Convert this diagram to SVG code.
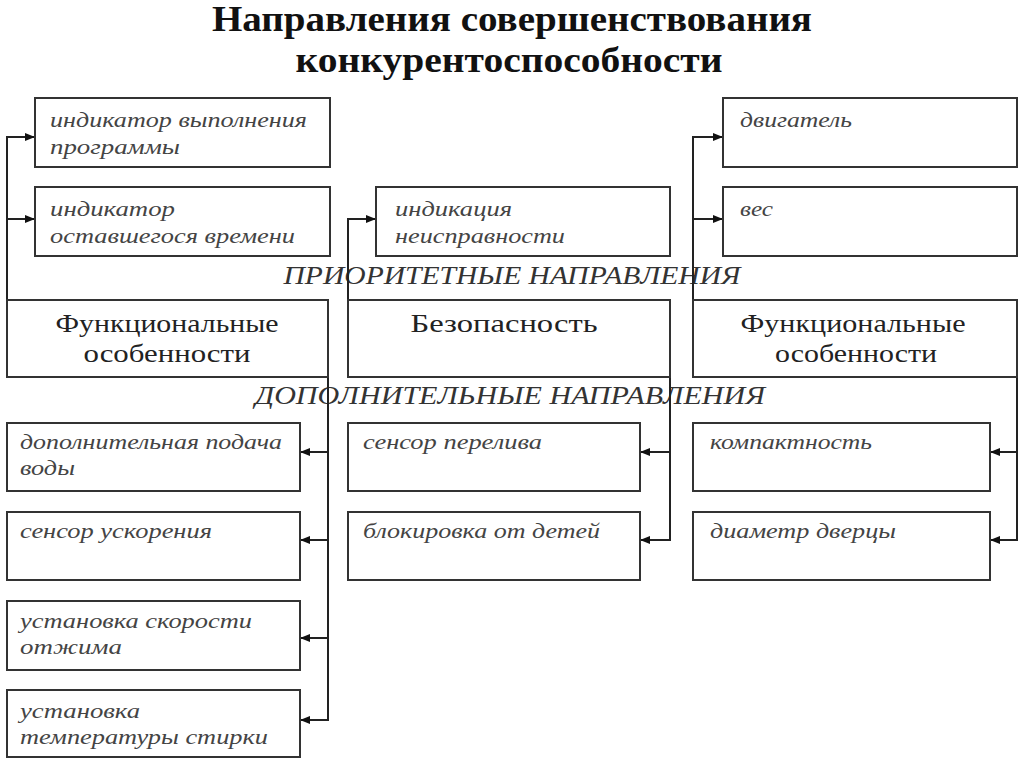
<svg xmlns="http://www.w3.org/2000/svg" width="1024" height="767" viewBox="0 0 1024 767">
<style>
.box{fill:#fff;stroke:#333;stroke-width:2}
.it{font-family:"Liberation Serif",serif;font-style:italic;font-size:21px;fill:#444}
.main{font-family:"Liberation Serif",serif;font-size:25px;fill:#222;text-anchor:middle}
.sec{font-family:"Liberation Serif",serif;font-style:italic;font-size:25px;fill:#333;text-anchor:middle}
.title{font-family:"Liberation Serif",serif;font-weight:bold;font-size:35px;fill:#111;text-anchor:middle}
.ln{fill:none;stroke:#222;stroke-width:2}
</style>
<defs>
<marker id="ah" viewBox="0 0 10 10" refX="10" refY="5" markerWidth="5" markerHeight="5" orient="auto" markerUnits="strokeWidth">
<path d="M0,1 L10,5 L0,9 z" fill="#111"/>
</marker>
</defs>
<rect width="1024" height="767" fill="#fff"/>
<g id="title">
<text class="title" x="512" y="31" textLength="600" lengthAdjust="spacingAndGlyphs">Направления совершенствования</text>
<text class="title" x="509" y="72" textLength="427" lengthAdjust="spacingAndGlyphs">конкурентоспособности</text>
</g>
<g id="labels">
<text class="sec" x="512" y="284" textLength="457" lengthAdjust="spacingAndGlyphs">ПРИОРИТЕТНЫЕ НАПРАВЛЕНИЯ</text>
<text class="sec" x="510" y="404" textLength="510" lengthAdjust="spacingAndGlyphs">ДОПОЛНИТЕЛЬНЫЕ НАПРАВЛЕНИЯ</text>
</g>
<g id="connectors">
<path class="ln" d="M7,300 V137 H35" marker-end="url(#ah)"/>
<path class="ln" d="M7,219 H35" marker-end="url(#ah)"/>
<path class="ln" d="M348,300 V219 H376" marker-end="url(#ah)"/>
<path class="ln" d="M693,300 V137 H723" marker-end="url(#ah)"/>
<path class="ln" d="M693,219 H723" marker-end="url(#ah)"/>
<path class="ln" d="M328,377 V720 H300" marker-end="url(#ah)"/>
<path class="ln" d="M328,452 H300" marker-end="url(#ah)"/>
<path class="ln" d="M328,540 H300" marker-end="url(#ah)"/>
<path class="ln" d="M328,638 H300" marker-end="url(#ah)"/>
<path class="ln" d="M670,377 V540 H640" marker-end="url(#ah)"/>
<path class="ln" d="M670,452 H640" marker-end="url(#ah)"/>
<path class="ln" d="M1017,377 V540 H990" marker-end="url(#ah)"/>
<path class="ln" d="M1017,452 H990" marker-end="url(#ah)"/>
</g>
<g id="n-ind-prog"><rect class="box" x="35" y="98" width="295" height="69"/>
<text class="it" x="50" y="127" textLength="257" lengthAdjust="spacingAndGlyphs">индикатор выполнения</text><text class="it" x="50" y="154" textLength="130" lengthAdjust="spacingAndGlyphs">программы</text></g>
<g id="n-ind-time"><rect class="box" x="35" y="187" width="295" height="69"/>
<text class="it" x="50" y="216" textLength="125" lengthAdjust="spacingAndGlyphs">индикатор</text><text class="it" x="50" y="243" textLength="245" lengthAdjust="spacingAndGlyphs">оставшегося времени</text></g>
<g id="n-ind-fault"><rect class="box" x="376" y="187" width="294" height="69"/>
<text class="it" x="395" y="216" textLength="117" lengthAdjust="spacingAndGlyphs">индикация</text><text class="it" x="395" y="243" textLength="170" lengthAdjust="spacingAndGlyphs">неисправности</text></g>
<g id="n-engine"><rect class="box" x="723" y="98" width="294" height="69"/>
<text class="it" x="740" y="127" textLength="112" lengthAdjust="spacingAndGlyphs">двигатель</text></g>
<g id="n-weight"><rect class="box" x="723" y="187" width="294" height="69"/>
<text class="it" x="740" y="216" textLength="33" lengthAdjust="spacingAndGlyphs">вес</text></g>
<g id="n-func-left"><rect class="box" x="7" y="300" width="321" height="77"/>
<text class="main" x="167" y="332" textLength="223" lengthAdjust="spacingAndGlyphs">Функциональные</text><text class="main" x="167" y="362" textLength="167" lengthAdjust="spacingAndGlyphs">особенности</text></g>
<g id="n-safety"><rect class="box" x="348" y="300" width="322" height="77"/>
<text class="main" x="504" y="332" textLength="187" lengthAdjust="spacingAndGlyphs">Безопасность</text></g>
<g id="n-func-right"><rect class="box" x="693" y="300" width="324" height="77"/>
<text class="main" x="853" y="332" textLength="225" lengthAdjust="spacingAndGlyphs">Функциональные</text><text class="main" x="856" y="362" textLength="162" lengthAdjust="spacingAndGlyphs">особенности</text></g>
<g id="n-water"><rect class="box" x="7" y="423" width="293" height="68"/>
<text class="it" x="20" y="449" textLength="262" lengthAdjust="spacingAndGlyphs">дополнительная подача</text><text class="it" x="20" y="475" textLength="55" lengthAdjust="spacingAndGlyphs">воды</text></g>
<g id="n-accel"><rect class="box" x="7" y="512" width="293" height="68"/>
<text class="it" x="20" y="538" textLength="192" lengthAdjust="spacingAndGlyphs">сенсор ускорения</text></g>
<g id="n-spin"><rect class="box" x="7" y="601" width="293" height="69"/>
<text class="it" x="20" y="628" textLength="232" lengthAdjust="spacingAndGlyphs">установка скорости</text><text class="it" x="20" y="654" textLength="102" lengthAdjust="spacingAndGlyphs">отжима</text></g>
<g id="n-temp"><rect class="box" x="7" y="690" width="293" height="67"/>
<text class="it" x="20" y="718" textLength="120" lengthAdjust="spacingAndGlyphs">установка</text><text class="it" x="20" y="744" textLength="248" lengthAdjust="spacingAndGlyphs">температуры стирки</text></g>
<g id="n-overflow"><rect class="box" x="348" y="423" width="292" height="68"/>
<text class="it" x="363" y="449" textLength="179" lengthAdjust="spacingAndGlyphs">сенсор перелива</text></g>
<g id="n-childlock"><rect class="box" x="348" y="512" width="292" height="68"/>
<text class="it" x="363" y="538" textLength="237" lengthAdjust="spacingAndGlyphs">блокировка от детей</text></g>
<g id="n-compact"><rect class="box" x="693" y="423" width="297" height="68"/>
<text class="it" x="710" y="449" textLength="162" lengthAdjust="spacingAndGlyphs">компактность</text></g>
<g id="n-door"><rect class="box" x="693" y="512" width="297" height="68"/>
<text class="it" x="710" y="538" textLength="186" lengthAdjust="spacingAndGlyphs">диаметр дверцы</text></g>
</svg>
